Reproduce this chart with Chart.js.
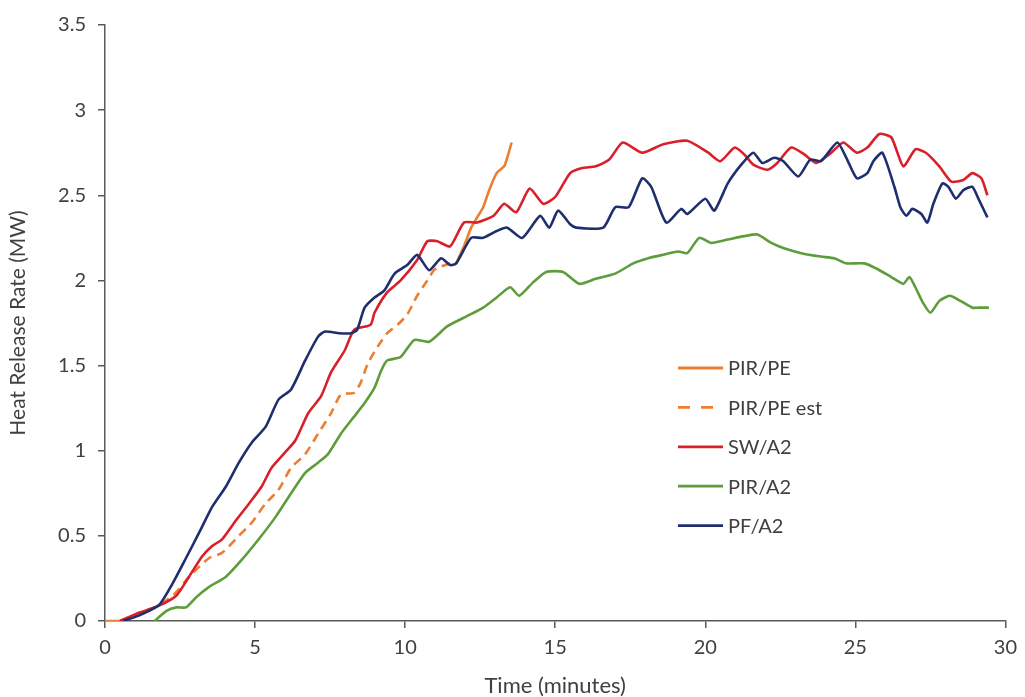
<!DOCTYPE html>
<html>
<head>
<meta charset="utf-8">
<script src="https://cdn.jsdelivr.net/npm/chart.js@4.4.1/dist/chart.umd.min.js"></script>
<style>
  html, body { margin: 0; padding: 0; background: #fff; }
  #wrap { width: 1025px; height: 697px; position: relative; }
</style>
</head>
<body>
<div id="wrap"><canvas id="hrr"></canvas></div>
<script>
// Heat release rate curves, time in minutes, HRR in MW
const pirPeT = [0, 0.6, 0.6, 11.7, 11.96, 12.2, 12.4, 12.6, 12.8, 13.05, 13.3, 13.4, 13.55];
const pirPeY = [0, 0, null, 2.10, 2.20, 2.31, 2.37, 2.43, 2.53, 2.63, 2.67, 2.72, 2.81];

const pirPeEstT = [0.5, 1.16, 1.8, 2.38, 2.8, 3.47, 3.9, 4.46, 4.9, 5.35, 5.78, 6.2, 6.67, 7.1, 7.53, 7.86, 8.3, 8.52, 8.75, 9.08, 9.4, 9.75, 10.07, 10.4, 10.74, 10.96, 11.17, 11.5, 11.7];
const pirPeEstY = [0, 0.05, 0.09, 0.17, 0.26, 0.37, 0.40, 0.50, 0.58, 0.69, 0.77, 0.90, 0.98, 1.10, 1.22, 1.33, 1.34, 1.40, 1.51, 1.61, 1.69, 1.74, 1.80, 1.91, 2.00, 2.06, 2.08, 2.10, 2.10];

const swT = [0.5, 1.16, 1.8, 2.38, 2.8, 3.24, 3.57, 3.9, 4.36, 4.8, 5.22, 5.55, 6.0, 6.34, 6.77, 7.2, 7.53, 7.99, 8.3, 8.85, 8.98, 9.4, 9.85, 10.4, 10.74, 11.07, 11.5, 11.96, 12.4, 12.95, 13.3, 13.7, 14.15, 14.6, 15.0, 15.5, 15.9, 16.35, 16.8, 17.25, 17.9, 18.6, 19.4, 20.1, 20.5, 20.98, 21.3, 21.6, 22.07, 22.4, 22.86, 23.3, 23.7, 24.2, 24.6, 25.05, 25.4, 25.8, 26.2, 26.6, 27.0, 27.35, 27.8, 28.2, 28.6, 28.9, 29.2, 29.4];
const swY = [0, 0.05, 0.09, 0.15, 0.26, 0.38, 0.44, 0.48, 0.59, 0.69, 0.79, 0.90, 0.99, 1.06, 1.22, 1.32, 1.46, 1.59, 1.71, 1.74, 1.81, 1.93, 2.00, 2.12, 2.23, 2.23, 2.20, 2.34, 2.34, 2.38, 2.45, 2.40, 2.54, 2.45, 2.49, 2.63, 2.66, 2.67, 2.71, 2.81, 2.75, 2.80, 2.82, 2.75, 2.70, 2.78, 2.74, 2.68, 2.65, 2.69, 2.78, 2.74, 2.69, 2.75, 2.81, 2.75, 2.78, 2.86, 2.84, 2.67, 2.77, 2.75, 2.67, 2.58, 2.59, 2.63, 2.60, 2.50];

const pirA2T = [1.65, 2.05, 2.38, 2.7, 3.04, 3.47, 4.03, 4.56, 5.12, 5.68, 6.2, 6.67, 7.1, 7.43, 7.86, 8.3, 8.65, 8.98, 9.2, 9.4, 9.85, 10.3, 10.8, 11.4, 12.06, 12.6, 13.05, 13.5, 13.8, 14.27, 14.7, 15.26, 15.8, 16.35, 17.0, 17.6, 18.1, 18.57, 19.1, 19.4, 19.8, 20.2, 20.75, 21.3, 21.74, 22.2, 22.6, 23.2, 23.85, 24.3, 24.7, 25.3, 25.7, 26.2, 26.6, 26.8, 27.0, 27.25, 27.5, 27.8, 28.15, 28.5, 28.9, 29.1, 29.45];
const pirA2Y = [0, 0.06, 0.08, 0.08, 0.14, 0.20, 0.26, 0.36, 0.48, 0.61, 0.75, 0.87, 0.93, 0.98, 1.10, 1.20, 1.28, 1.37, 1.47, 1.53, 1.55, 1.65, 1.64, 1.73, 1.79, 1.84, 1.90, 1.96, 1.91, 1.99, 2.05, 2.05, 1.98, 2.01, 2.04, 2.10, 2.13, 2.15, 2.17, 2.16, 2.25, 2.22, 2.24, 2.26, 2.27, 2.22, 2.19, 2.16, 2.14, 2.13, 2.10, 2.10, 2.07, 2.02, 1.98, 2.02, 1.96, 1.87, 1.81, 1.88, 1.91, 1.88, 1.84, 1.84, 1.84];

const pfT = [0.6, 1.1, 1.8, 2.25, 2.7, 3.14, 3.57, 4.03, 4.46, 4.9, 5.35, 5.78, 6.2, 6.67, 7.1, 7.33, 7.8, 8.2, 8.4, 8.65, 8.98, 9.3, 9.65, 10.07, 10.4, 10.8, 11.2, 11.5, 11.7, 12.2, 12.6, 13.05, 13.4, 13.9, 14.5, 14.8, 15.1, 15.5, 15.7, 16.6, 17.0, 17.45, 17.9, 18.2, 18.7, 19.2, 19.4, 20.0, 20.3, 20.75, 21.2, 21.6, 21.9, 22.3, 22.6, 23.1, 23.5, 23.85, 24.4, 24.7, 25.05, 25.4, 25.6, 25.9, 26.3, 26.5, 26.7, 26.9, 27.2, 27.4, 27.6, 27.9, 28.1, 28.35, 28.6, 28.9, 29.1, 29.4];
const pfY = [0, 0.03, 0.094, 0.22, 0.37, 0.52, 0.67, 0.79, 0.93, 1.05, 1.14, 1.30, 1.36, 1.53, 1.67, 1.70, 1.69, 1.69, 1.71, 1.84, 1.90, 1.94, 2.04, 2.09, 2.15, 2.06, 2.13, 2.09, 2.10, 2.25, 2.25, 2.29, 2.31, 2.25, 2.38, 2.31, 2.41, 2.33, 2.31, 2.31, 2.43, 2.43, 2.60, 2.55, 2.34, 2.42, 2.39, 2.48, 2.41, 2.57, 2.68, 2.75, 2.69, 2.72, 2.70, 2.61, 2.71, 2.70, 2.81, 2.72, 2.60, 2.63, 2.70, 2.75, 2.55, 2.43, 2.38, 2.42, 2.39, 2.34, 2.45, 2.57, 2.55, 2.48, 2.53, 2.55, 2.48, 2.37];

const seriesNames = ['PIR/PE', 'PIR/PE est', 'SW/A2', 'PIR/A2', 'PF/A2'];
const seriesColors = ['#ed7d31', '#ed7d31', '#d9202a', '#5e9c3c', '#1f2f6e'];

const FONT = 'Lato, "Open Sans", sans-serif';
const TEXT = '#404040';

function toPoints(ts, ys) {
  return ts.map((t, i) => ({ x: t, y: ys[i] }));
}

function makeSet(i, ts, ys, dashed) {
  return {
    label: seriesNames[i],
    data: toPoints(ts, ys),
    borderColor: seriesColors[i],
    backgroundColor: seriesColors[i],
    borderWidth: 2.6,
    borderDash: dashed ? [9, 6] : [],
    pointRadius: 0,
    tension: 0.2,
    spanGaps: false,
    order: 4 - i
  };
}

// legend sits inside the plot, drawn by hand
const innerLegend = {
  id: 'innerLegend',
  afterDraw(chart) {
    const ctx = chart.ctx;
    const a = chart.chartArea;
    const x0 = a.left + 573;
    const y0 = a.top + 343;
    const gap = 39.4;
    ctx.save();
    ctx.font = '20px ' + FONT;
    ctx.textBaseline = 'middle';
    seriesNames.forEach((name, i) => {
      const y = y0 + i * gap;
      ctx.strokeStyle = seriesColors[i];
      ctx.lineWidth = 2.8;
      ctx.setLineDash(i === 1 ? [12, 11] : []);
      ctx.beginPath();
      ctx.moveTo(x0, y);
      ctx.lineTo(x0 + 45, y);
      ctx.stroke();
      ctx.setLineDash([]);
      ctx.fillStyle = TEXT;
      ctx.fillText(name, x0 + 50, y + 1);
    });
    ctx.restore();
  }
};

new Chart(document.getElementById('hrr'), {
  type: 'line',
  data: {
    datasets: [
      makeSet(0, pirPeT, pirPeY, false),
      makeSet(1, pirPeEstT, pirPeEstY, true),
      makeSet(2, swT, swY, false),
      makeSet(3, pirA2T, pirA2Y, false),
      makeSet(4, pfT, pfY, false)
    ]
  },
  options: {
    responsive: true,
    maintainAspectRatio: false,
    animation: false,
    layout: { padding: { top: 25, right: 12, left: 0, bottom: 0 } },
    plugins: {
      legend: { display: false },
      tooltip: { enabled: false }
    },
    scales: {
      x: {
        type: 'linear',
        min: 0,
        max: 30,
        ticks: { stepSize: 5, color: TEXT, font: { family: FONT, size: 20 }, padding: 8 },
        grid: { drawOnChartArea: false, drawTicks: true, tickLength: 7, color: '#595959', lineWidth: 1.5 },
        border: { color: '#595959', width: 1.5 },
        title: { display: true, text: 'Time (minutes)', color: TEXT, font: { family: FONT, size: 22 }, padding: { top: 0, bottom: -2 } },
        afterFit(scale) { scale.height = 76; }
      },
      y: {
        min: 0,
        max: 3.5,
        ticks: {
          stepSize: 0.5,
          color: TEXT,
          font: { family: FONT, size: 20 },
          padding: 12,
          callback: (v) => String(v)
        },
        grid: { drawOnChartArea: false, drawTicks: true, tickLength: 7, color: '#595959', lineWidth: 1.5 },
        border: { color: '#595959', width: 1.5 },
        title: { display: true, text: 'Heat Release Rate (MW)', color: TEXT, font: { family: FONT, size: 21 }, padding: { top: 6, bottom: 0 } },
        afterFit(scale) { scale.width = 105; }
      }
    }
  },
  plugins: [innerLegend]
});
</script>
</body>
</html>
